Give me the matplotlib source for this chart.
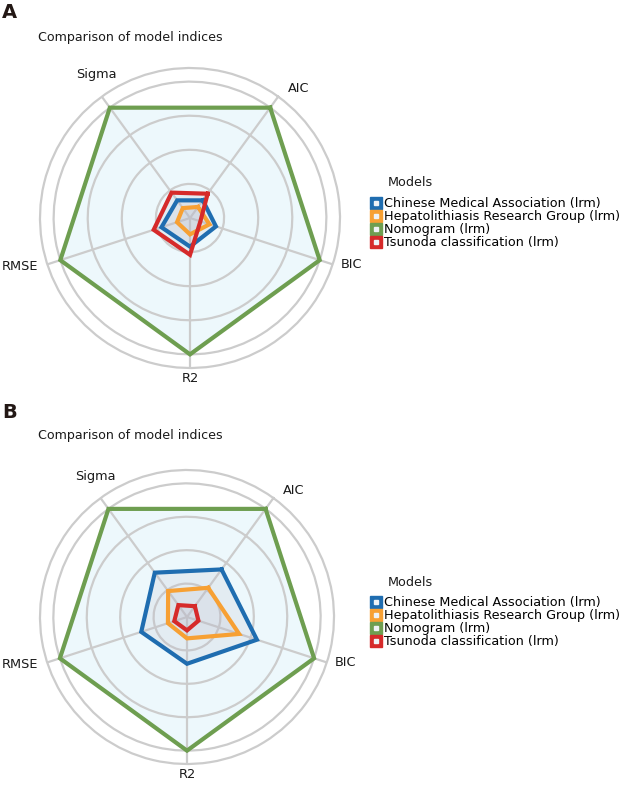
import numpy as np
import matplotlib.pyplot as plt
from matplotlib.lines import Line2D

# axes, clockwise from AIC
indices = ['AIC', 'BIC', 'R2', 'RMSE', 'Sigma']
models = ['Chinese Medical Association (lrm)',
          'Hepatolithiasis Research Group (lrm)',
          'Nomogram (lrm)',
          'Tsunoda classification (lrm)']
colors = ['#1f6db0', '#f7a033', '#6e9e50', '#d62a2a']

# panel A (normalised indices)
cma_a = [0.16, 0.20, 0.21, 0.22, 0.16]
hrg_a = [0.10, 0.15, 0.12, 0.10, 0.09]
nom_a = [1.0, 1.0, 1.0, 1.0, 1.0]
tsu_a = [0.22, 0.08, 0.27, 0.28, 0.23]

# panel B
cma_b = [0.44, 0.55, 0.35, 0.36, 0.41]
hrg_b = [0.27, 0.41, 0.16, 0.15, 0.24]
nom_b = [1.0, 1.0, 1.0, 1.0, 1.0]
tsu_b = [0.10, 0.09, 0.10, 0.10, 0.11]

rings = [0.25, 0.5, 0.75, 1.0]
rmax = 1.1
grid_col = '#cccccc'

# where the axis names sit: (angle in degrees ccw from east, radius)
lab_pos = {'AIC': (50, 1.24), 'BIC': (-16, 1.23), 'R2': (-90, 1.18),
           'RMSE': (196, 1.30), 'Sigma': (123, 1.255)}

fig = plt.figure(figsize=(6.24, 7.87), dpi=100)


def radar(rect, series):
    ax = fig.add_axes(rect, projection='polar')
    ax.set_theta_direction(-1)
    ax.set_theta_offset(np.deg2rad(54))
    theta = np.linspace(0, 2 * np.pi, len(indices), endpoint=False)
    ax.set_ylim(0, rmax)
    ax.set_yticks(rings)
    ax.set_yticklabels([])
    ax.set_xticks(theta)
    ax.set_xticklabels([])
    ax.grid(True, color=grid_col, lw=1.6)
    ax.spines['polar'].set_color(grid_col)
    ax.spines['polar'].set_linewidth(1.6)
    tt = np.append(theta, theta[0])
    for vals, c in zip(series, colors):
        vv = np.append(vals, vals[0])
        if c == colors[2]:
            ax.fill(tt, vv, color='#e2f4fa', alpha=0.6, zorder=1)
        else:
            ax.fill(tt, vv, color='#b8b8c8', alpha=0.18, zorder=2)
    for vals, c in zip(series, colors):
        vv = np.append(vals, vals[0])
        ax.plot(tt, vv, color=c, lw=3, zorder=3, solid_joinstyle='miter')
    for name in indices:
        ang, r = lab_pos[name]
        ax.text(np.deg2rad(54 - ang), r, name, ha='center', va='center',
                fontsize=9.3, color='#1a1a1a', clip_on=False)
    return ax


radar([40 / 624, 419 / 787, 300 / 624, 300 / 787], [cma_a, hrg_a, nom_a, tsu_a])
radar([40 / 624, 23 / 787, 294 / 624, 294 / 787], [cma_b, hrg_b, nom_b, tsu_b])

for y0, panel in [(787 - 13, 'A'), (787 - 412, 'B')]:
    fig.text(2 / 624, y0 / 787, panel, fontsize=14, fontweight='bold',
             ha='left', va='center', color='#231815')
    fig.text(38 / 624, (y0 - 24) / 787, 'Comparison of model indices',
             fontsize=9.1, ha='left', va='center', color='#1a1a1a')

handles = [(Line2D([], [], ls='', marker='s', ms=8.5, mfc=c, mec=c),
            Line2D([], [], ls='', marker='s', ms=3, mfc='#eef2f6', mec='#eef2f6'))
           for c in colors]

for ytitle in [183, 582]:
    fig.text(388 / 624, 1 - ytitle / 787, 'Models', fontsize=9.2,
             ha='left', va='center', color='#1a1a1a')
    fig.legend(handles, models, loc='upper left',
               bbox_to_anchor=(370 / 624, 1 - (ytitle + 14) / 787),
               frameon=False, fontsize=9.2, handlelength=0.9,
               handletextpad=0.2, labelspacing=0.0, borderpad=0,
               borderaxespad=0)

fig.savefig('out.png', dpi=100)
